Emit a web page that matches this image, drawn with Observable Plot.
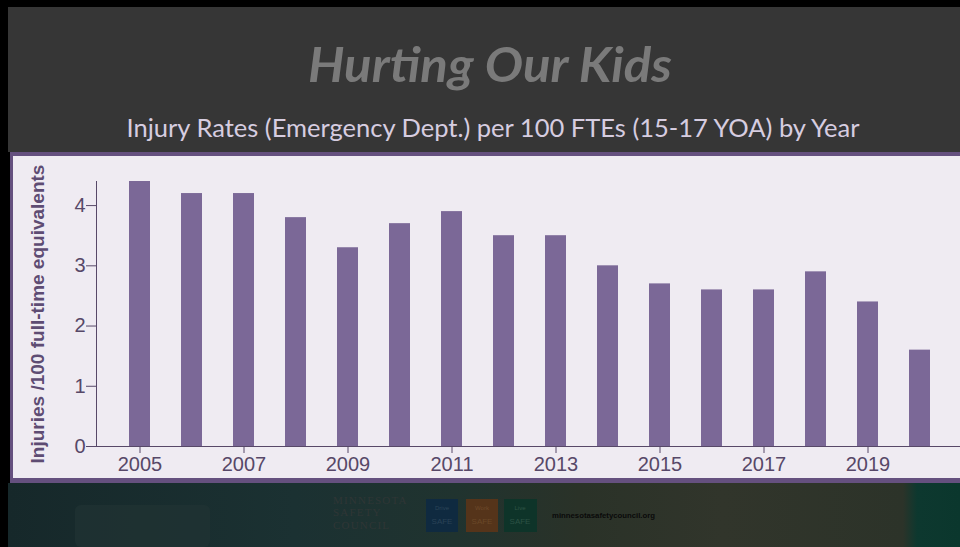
<!DOCTYPE html>
<html>
<head>
<meta charset="utf-8">
<script src="https://cdn.jsdelivr.net/npm/d3@7"></script>
<script src="https://cdn.jsdelivr.net/npm/@observablehq/plot@0.6"></script>
<style>
  html, body { margin: 0; padding: 0; overflow: hidden; }
  body { width: 960px; height: 547px; background: #000; position: relative; }
  #header { position: absolute; left: 0; top: 0; }
  #panel { position: absolute; left: 10px; top: 152px; width: 960px; height: 331px; background: #65507f; }
  #inner { position: absolute; left: 3px; top: 4px; width: 957px; height: 322px; background: #efebf2; overflow: hidden; }
  #footer { position: absolute; left: 8px; top: 483px; }
  #inner svg g[aria-label="x-axis"] path.domain,
  #inner svg g[aria-label="y-axis"] path.domain { stroke-width: 1.6; }
</style>
</head>
<body>
<svg id="header" width="960" height="152">
  <rect x="8" y="7" width="952" height="145" fill="#363636"></rect>
  <text id="title" x="490" y="82" text-anchor="middle" textLength="364" lengthAdjust="spacingAndGlyphs"
        font-family="Lato, 'Open Sans', sans-serif" font-weight="bold" font-style="italic" font-size="47" fill="#7a7a7a"></text>
  <text id="subtitle" x="493" y="137" text-anchor="middle" textLength="733" lengthAdjust="spacingAndGlyphs"
        font-family="Lato, 'Open Sans', sans-serif" font-size="25" fill="#d6cde0"></text>
</svg>
<div id="panel"><div id="inner"></div></div>
<svg id="footer" width="952" height="64">
  <defs>
    <linearGradient id="fg" x1="0" x2="1" y1="0" y2="0">
      <stop offset="0" stop-color="#16282a"></stop>
      <stop offset="0.3" stop-color="#1b3132"></stop>
      <stop offset="0.47" stop-color="#20332f"></stop>
      <stop offset="0.6" stop-color="#2a3228"></stop>
      <stop offset="0.75" stop-color="#31352b"></stop>
      <stop offset="0.94" stop-color="#2c3329"></stop>
      <stop offset="0.955" stop-color="#0d382f"></stop>
      <stop offset="1" stop-color="#0b372d"></stop>
    </linearGradient>
  </defs>
  <rect x="0" y="0" width="952" height="64" fill="url(#fg)"></rect>
  <rect x="67" y="22" width="135" height="42" rx="6" fill="#213333" opacity="0.7"></rect>
  <g font-family="'Liberation Serif', 'DejaVu Serif', serif" font-size="11" fill="#2f3636" letter-spacing="1.2">
    <text x="325" y="21">MINNESOTA</text>
    <text x="325" y="33">SAFETY</text>
    <text x="325" y="46">COUNCIL</text>
  </g>
  <rect x="418" y="16" width="32" height="33" fill="#0f2a40"></rect>
  <rect x="458" y="16" width="32" height="33" fill="#55341a"></rect>
  <rect x="496" y="16" width="33" height="33" fill="#0e3429"></rect>
  <g font-family="'Liberation Sans', Arial, sans-serif" text-anchor="middle">
    <text x="434" y="27" font-size="6" fill="#2c4558">Drive</text>
    <text x="434" y="41" font-size="8" fill="#2a4256">SAFE</text>
    <text x="474" y="27" font-size="6" fill="#6e4a2a">Work</text>
    <text x="474" y="41" font-size="8" fill="#6a4828">SAFE</text>
    <text x="512" y="27" font-size="6" fill="#2e5546">Live</text>
    <text x="512" y="41" font-size="8" fill="#2c5244">SAFE</text>
  </g>
  <text x="544" y="35" font-family="'Liberation Sans', Arial, sans-serif" font-weight="bold" font-size="8" fill="#0a0a0a" textLength="103" lengthAdjust="spacingAndGlyphs">minnesotasafetycouncil.org</text>
</svg>
<script>
const titleText = "Hurting Our Kids";
const subtitleText = "Injury Rates (Emergency Dept.) per 100 FTEs (15-17 YOA) by Year";
const years = ["2005","2006","2007","2008","2009","2010","2011","2012","2013","2014","2015","2016","2017","2018","2019","2020"];
const rates = [4.4, 4.2, 4.2, 3.8, 3.3, 3.7, 3.9, 3.5, 3.5, 3.0, 2.7, 2.6, 2.6, 2.9, 2.4, 1.6];
const xTickLabels = ["2005","2007","2009","2011","2013","2015","2017","2019"];
const yTicks = [0, 1, 2, 3, 4];
const yLabel = "Injuries /100 full-time equivalents";

document.getElementById("title").textContent = titleText;
document.getElementById("subtitle").textContent = subtitleText;

const data = years.map((year, i) => ({year, rate: rates[i]}));

const chart = Plot.plot({
  width: 949,
  height: 322,
  marginLeft: 83,
  marginRight: 0,
  marginTop: 25,
  marginBottom: 32,
  style: {background: "transparent", fontFamily: "'Liberation Sans', Arial, sans-serif", fontSize: "20px", color: "#574868", overflow: "visible"},
  x: {type: "band", domain: years, padding: 0.6, ticks: xTickLabels, tickSize: 7, tickPadding: 3, label: null, line: true},
  y: {domain: [0, 4.4], ticks: yTicks, tickFormat: d => String(d), tickSize: 10, tickPadding: 1, label: null, line: true},
  marks: [
    Plot.barY(data, {x: "year", y: "rate", fill: "#7b6897"}),
    Plot.text([yLabel], {frameAnchor: "left", textAnchor: "middle", rotate: -90, dx: -59, fontWeight: "bold", fontSize: 19, fill: "#5e4c73"})
  ]
});
document.getElementById("inner").appendChild(chart);
</script>
</body>
</html>
